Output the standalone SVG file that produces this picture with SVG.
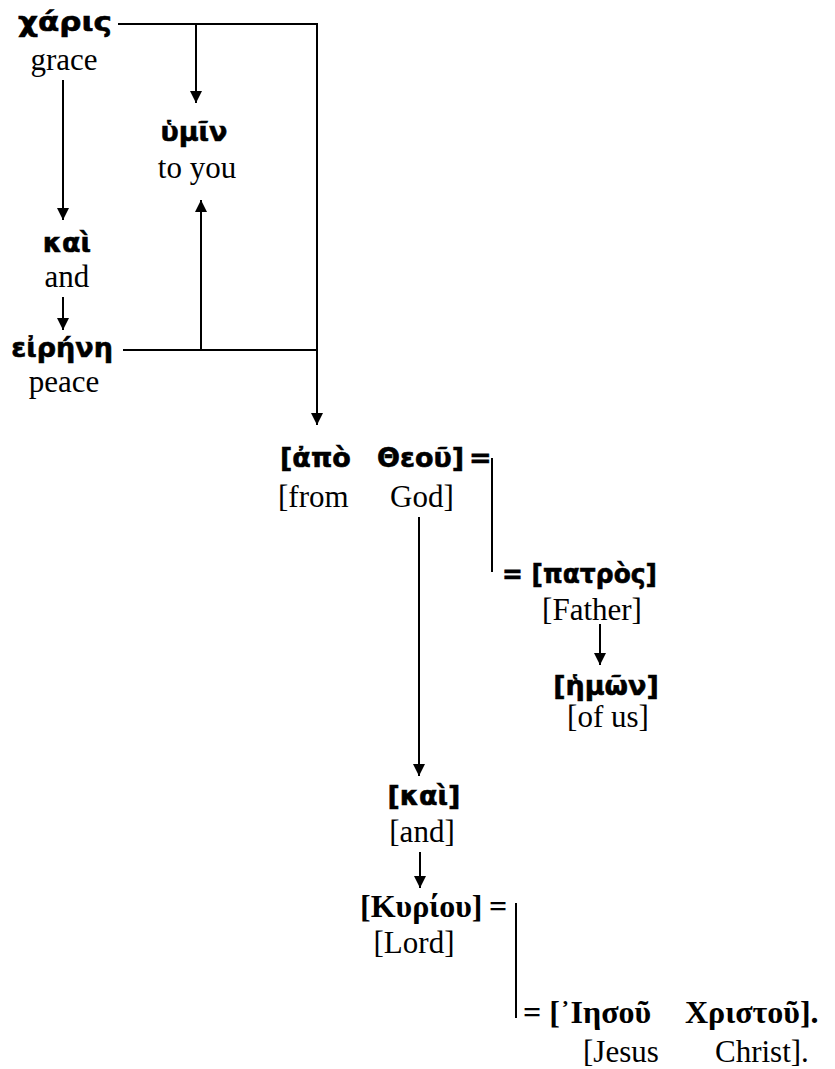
<svg xmlns="http://www.w3.org/2000/svg" width="835" height="1069" viewBox="0 0 835 1069">
<style>
.g{font-family:"DejaVu Sans","Noto Sans",sans-serif;font-weight:bold;font-size:27px;fill:#000;stroke:#000;stroke-width:0.6}
.gs{font-family:"Liberation Serif","Times New Roman",serif;font-weight:bold;font-size:32px;fill:#000}
.e{font-family:"Liberation Serif","Times New Roman",serif;font-size:31px;fill:#000}
.l{stroke:#000;stroke-width:2;fill:none}
</style>
<defs>
<marker id="a" markerWidth="12" markerHeight="12" refX="10" refY="5" orient="auto" markerUnits="userSpaceOnUse" viewBox="0 0 10 10">
<path d="M0,0 L10,5 L0,10 z" fill="#000"/>
</marker>
</defs>
<rect width="835" height="1069" fill="#fff"/>
<g id="connectors">
<path class="l" d="M118,24 H317 V425" marker-end="url(#a)"/>
<path class="l" d="M196,24 V103" marker-end="url(#a)"/>
<path class="l" d="M63,80 V220" marker-end="url(#a)"/>
<path class="l" d="M63,297 V330" marker-end="url(#a)"/>
<path class="l" d="M123,350 H317"/>
<path class="l" d="M201,350 V200" marker-end="url(#a)"/>
<path class="l" d="M492,458 V572"/>
<path class="l" d="M419,517 V776" marker-end="url(#a)"/>
<path class="l" d="M600,624 V665" marker-end="url(#a)"/>
<path class="l" d="M420,852 V888" marker-end="url(#a)"/>
<path class="l" d="M516,903 V1018"/>
</g>
<g id="charis"><text class="g" x="18" y="31" textLength="94" lengthAdjust="spacingAndGlyphs">χάρις</text><text class="e" x="64" y="70" text-anchor="middle">grace</text></g>
<g id="hymin"><text class="g" x="194" y="141" text-anchor="middle">ὑμῖν</text><text class="e" x="197" y="178" text-anchor="middle">to you</text></g>
<g id="kai1"><text class="g" x="67" y="252" text-anchor="middle">καὶ</text><text class="e" x="67" y="287" text-anchor="middle">and</text></g>
<g id="eirene"><text class="g" x="62" y="357" text-anchor="middle">εἰρήνη</text><text class="e" x="64" y="392" text-anchor="middle">peace</text></g>
<g id="apo-theou"><text class="g" x="280" y="467">[ἀπὸ</text><text class="g" x="377" y="467">Θεοῦ]</text><text class="g" x="469" y="467">=</text><text class="e" x="278" y="507">[from</text><text class="e" x="390" y="507">God]</text></g>
<g id="patros"><text class="g" x="502" y="583" textLength="155" lengthAdjust="spacingAndGlyphs">= [πατρὸς]</text><text class="e" x="592" y="620" text-anchor="middle">[Father]</text></g>
<g id="hemon"><text class="g" x="606" y="695" text-anchor="middle">[ἡμῶν]</text><text class="e" x="608" y="727" text-anchor="middle">[of us]</text></g>
<g id="kai2"><text class="g" x="424" y="805" text-anchor="middle">[καὶ]</text><text class="e" x="422" y="842" text-anchor="middle">[and]</text></g>
<g id="kyriou"><text class="gs" x="360" y="917">[Κυρίου]</text><text class="gs" x="489" y="917">=</text><text class="e" x="414" y="953" text-anchor="middle">[Lord]</text></g>
<g id="iesou"><text class="gs" x="523" y="1023">= [᾿Ιησοῦ</text><text class="gs" x="685" y="1023">Χριστοῦ].</text><text class="e" x="583" y="1062">[Jesus</text><text class="e" x="715" y="1062">Christ].</text></g>
</svg>
